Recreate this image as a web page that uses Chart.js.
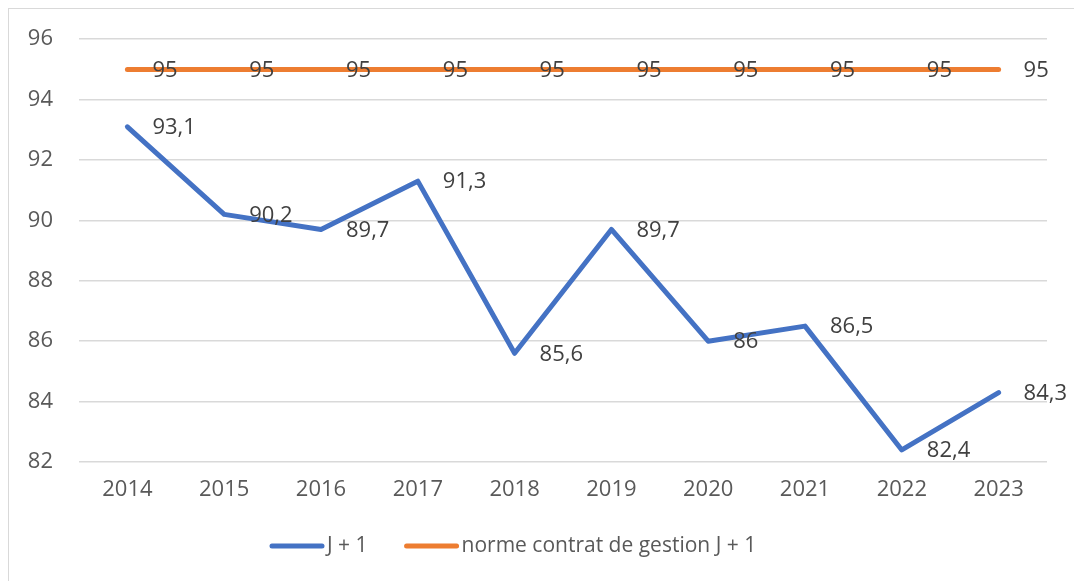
<!DOCTYPE html>
<html>
<head>
<meta charset="utf-8">
<script src="https://cdn.jsdelivr.net/npm/chart.js@4/dist/chart.umd.min.js"></script>
<style>
  html, body { margin: 0; padding: 0; background: #fff; }
  #frame { position: absolute; left: 8px; top: 8px; width: 1080px; height: 600px; border: 1px solid #D9D9D9; }
  #wrap { position: absolute; left: 0; top: 0; width: 1074px; height: 581px; }
</style>
</head>
<body>
<div id="frame"></div>
<div id="wrap"><canvas id="chart"></canvas></div>
<script>
const years = ['2014', '2015', '2016', '2017', '2018', '2019', '2020', '2021', '2022', '2023'];
const jPlusOne = [93.1, 90.2, 89.7, 91.3, 85.6, 89.7, 86, 86.5, 82.4, 84.3];
const norme = [95, 95, 95, 95, 95, 95, 95, 95, 95, 95];
const yTicks = [82, 84, 86, 88, 90, 92, 94, 96];

const FONT = "'Open Sans', 'Noto Sans', sans-serif";

// labels to the right of each point, like Excel
const pointLabels = {
  id: 'pointLabels',
  afterDatasetsDraw(chart) {
    const ctx = chart.ctx;
    ctx.save();
    ctx.font = '22px ' + FONT;
    ctx.fillStyle = '#404040';
    ctx.textAlign = 'left';
    ctx.textBaseline = 'middle';
    chart.data.datasets.forEach((ds, i) => {
      chart.getDatasetMeta(i).data.forEach((pt, j) => {
        ctx.fillText(String(ds.data[j]).replace('.', ','), pt.x + 25, pt.y + 1);
      });
    });
    ctx.restore();
  }
};

// bottom legend: short thick line then text, close together
const bottomLegend = {
  id: 'bottomLegend',
  afterDraw(chart) {
    const ctx = chart.ctx;
    ctx.save();
    ctx.font = '21px ' + FONT;
    ctx.textBaseline = 'middle';
    ctx.lineCap = 'round';
    let x = 272;
    const y = 546;
    chart.data.datasets.forEach(ds => {
      ctx.strokeStyle = ds.borderColor;
      ctx.lineWidth = 5;
      ctx.beginPath();
      ctx.moveTo(x, y);
      ctx.lineTo(x + 50, y);
      ctx.stroke();
      ctx.fillStyle = '#595959';
      ctx.fillText(ds.label, x + 55, y);
      x += 55 + ctx.measureText(ds.label).width + 39;
    });
    ctx.restore();
  }
};

new Chart(document.getElementById('chart'), {
  type: 'line',
  data: {
    labels: years,
    datasets: [
      {
        label: 'J + 1',
        data: jPlusOne,
        borderColor: '#4472C4',
        backgroundColor: '#4472C4',
        borderWidth: 5,
        pointRadius: 0,
        borderCapStyle: 'round',
        borderJoinStyle: 'round',
        tension: 0
      },
      {
        label: 'norme contrat de gestion J + 1',
        data: norme,
        borderColor: '#ED7D31',
        backgroundColor: '#ED7D31',
        borderWidth: 5,
        pointRadius: 0,
        borderCapStyle: 'round',
        tension: 0
      }
    ]
  },
  options: {
    responsive: true,
    maintainAspectRatio: false,
    animation: false,
    layout: { padding: { top: 38, right: 27, left: 0, bottom: 69 } },
    scales: {
      x: {
        offset: true,
        grid: { display: false, drawTicks: false },
        border: { display: false },
        ticks: { color: '#595959', font: { family: FONT, size: 22 }, padding: 15, maxRotation: 0 },
        afterFit(scale) { scale.height = 50; }
      },
      y: {
        min: 82,
        max: 96,
        afterBuildTicks(scale) { scale.ticks = yTicks.map(v => ({ value: v })); },
        grid: { color: '#D9D9D9', lineWidth: 1.5, drawTicks: false },
        border: { display: false },
        ticks: { color: '#595959', font: { family: FONT, size: 22 }, padding: 26 },
        afterFit(scale) { scale.width = 79; }
      }
    },
    plugins: {
      legend: { display: false },
      tooltip: { enabled: false }
    }
  },
  plugins: [pointLabels, bottomLegend]
});
</script>
</body>
</html>
